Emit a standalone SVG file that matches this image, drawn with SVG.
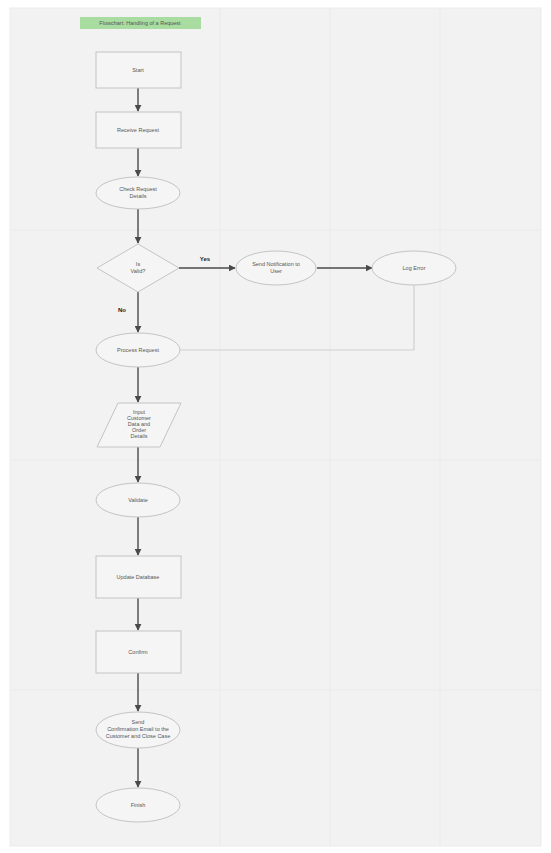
<svg xmlns="http://www.w3.org/2000/svg" width="551" height="853" viewBox="0 0 551 853">
<defs>
<style>
.node{fill:#f5f5f5;stroke:#c4c4c4;stroke-width:1}
.t{font-family:"Liberation Sans",Arial,sans-serif;font-size:5.5px;fill:#555;text-anchor:middle}
.lbl{font-family:"Liberation Sans",Arial,sans-serif;font-size:6px;font-weight:bold;fill:#222;text-anchor:middle}
.edge{stroke:#4a4a4a;stroke-width:1.4;fill:none}
.grid{stroke:#eaeaea;stroke-width:1}
</style>
<marker id="ah" viewBox="0 0 10 10" refX="9" refY="5" markerWidth="5" markerHeight="5" orient="auto">
<path d="M0,0 L10,5 L0,10 z" fill="#4a4a4a"/>
</marker>
</defs>
<rect x="0" y="0" width="551" height="853" fill="#ffffff"/>
<rect x="10" y="8" width="531" height="838" fill="#f2f2f2" stroke="#ebebeb"/>
<g class="grid">
<line x1="220" y1="8" x2="220" y2="846"/>
<line x1="330" y1="8" x2="330" y2="846"/>
<line x1="440" y1="8" x2="440" y2="846"/>
<line x1="10" y1="230" x2="541" y2="230"/>
<line x1="10" y1="460" x2="541" y2="460"/>
<line x1="10" y1="690" x2="541" y2="690"/>
</g>
<g id="title">
<rect x="80" y="17" width="121" height="12" fill="#a8dca0"/>
<text class="t" x="140" y="25" fill="#2a4a2a">Flowchart: Handling of a Request</text>
</g>
<g id="connectors">
<line class="edge" x1="138" y1="88" x2="138" y2="111" marker-end="url(#ah)"/>
<line class="edge" x1="138" y1="148" x2="138" y2="176" marker-end="url(#ah)"/>
<line class="edge" x1="138" y1="209" x2="138" y2="243" marker-end="url(#ah)"/>
<line class="edge" x1="179" y1="268" x2="235" y2="268" marker-end="url(#ah)"/>
<line class="edge" x1="317" y1="268" x2="372" y2="268" marker-end="url(#ah)"/>
<line class="edge" x1="138" y1="292" x2="138" y2="332" marker-end="url(#ah)"/>
<polyline points="414,285 414,350 180,350" fill="none" stroke="#d0d0d0" stroke-width="1.2"/>
<line class="edge" x1="138" y1="367" x2="138" y2="402" marker-end="url(#ah)"/>
<line class="edge" x1="138" y1="447" x2="138" y2="482" marker-end="url(#ah)"/>
<line class="edge" x1="138" y1="517" x2="138" y2="555" marker-end="url(#ah)"/>
<line class="edge" x1="138" y1="598" x2="138" y2="630" marker-end="url(#ah)"/>
<line class="edge" x1="138" y1="673" x2="138" y2="711" marker-end="url(#ah)"/>
<line class="edge" x1="138" y1="748" x2="138" y2="787" marker-end="url(#ah)"/>
<text class="lbl" x="205" y="261">Yes</text>
<text class="lbl" x="122" y="312">No</text>
</g>
<g id="n1"><rect class="node" x="96" y="52" width="85" height="36"/><text class="t" x="138" y="72">Start</text></g>
<g id="n2"><rect class="node" x="96" y="112" width="85" height="36"/><text class="t" x="138" y="132">Receive Request</text></g>
<g id="n3"><ellipse class="node" cx="138" cy="193" rx="42" ry="16"/><text class="t" x="138" y="191">Check Request</text><text class="t" x="138" y="198">Details</text></g>
<g id="n4"><polygon class="node" points="138,244 179,268 138,292 97,268"/><text class="t" x="138" y="266">Is</text><text class="t" x="138" y="273">Valid?</text></g>
<g id="n5"><ellipse class="node" cx="276" cy="268" rx="40" ry="17"/><text class="t" x="276" y="266">Send Notification to</text><text class="t" x="276" y="273">User</text></g>
<g id="n6"><ellipse class="node" cx="414" cy="268" rx="42" ry="17"/><text class="t" x="414" y="270">Log Error</text></g>
<g id="n7"><ellipse class="node" cx="138" cy="350" rx="42" ry="17"/><text class="t" x="138" y="352">Process Request</text></g>
<g id="n8"><polygon class="node" points="118,403 181,403 160,447 97,447"/>
<text class="t" x="139" y="414">Input</text><text class="t" x="139" y="420">Customer</text><text class="t" x="139" y="426">Data and</text><text class="t" x="139" y="432">Order</text><text class="t" x="139" y="438">Details</text></g>
<g id="n9"><ellipse class="node" cx="138" cy="500" rx="42" ry="17"/><text class="t" x="138" y="502">Validate</text></g>
<g id="n10"><rect class="node" x="96" y="556" width="85" height="42"/><text class="t" x="138" y="579">Update Database</text></g>
<g id="n11"><rect class="node" x="96" y="631" width="85" height="42"/><text class="t" x="138" y="654">Confirm</text></g>
<g id="n12"><ellipse class="node" cx="138" cy="730" rx="42" ry="18"/><text class="t" x="138" y="724">Send</text><text class="t" x="138" y="731">Confirmation Email to the</text><text class="t" x="138" y="738">Customer and Close Case</text></g>
<g id="n13"><ellipse class="node" cx="138" cy="805" rx="42" ry="17"/><text class="t" x="138" y="807">Finish</text></g>
</svg>
